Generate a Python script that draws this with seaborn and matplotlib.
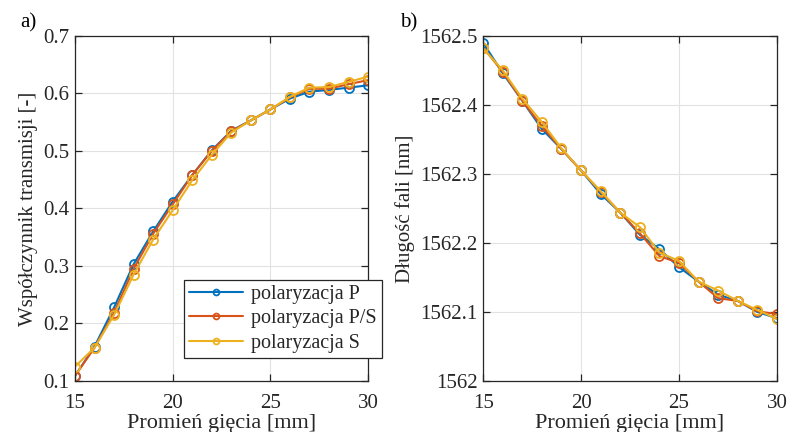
import numpy as np
import pandas as pd
import matplotlib
matplotlib.use("Agg")
import matplotlib.pyplot as plt
import seaborn as sns

# ── Data ──────────────────────────────────────────────────────────────────────
radius = [15, 16, 17, 18, 19, 20, 21, 22, 23, 24, 25, 26, 27, 28, 29, 30]

trans_p  = [0.109, 0.160, 0.228, 0.303, 0.360, 0.412, 0.458, 0.501, 0.535, 0.553,
            0.572, 0.591, 0.603, 0.606, 0.610, 0.614]
trans_ps = [0.109, 0.158, 0.219, 0.295, 0.356, 0.407, 0.458, 0.500, 0.534, 0.553,
            0.572, 0.593, 0.608, 0.608, 0.616, 0.623]
trans_s  = [0.125, 0.158, 0.215, 0.285, 0.346, 0.397, 0.449, 0.493, 0.532, 0.553,
            0.572, 0.594, 0.610, 0.611, 0.620, 0.629]

wl_p  = [1562.490, 1562.446, 1562.406, 1562.365, 1562.336, 1562.305, 1562.271, 1562.244,
         1562.212, 1562.191, 1562.165, 1562.144, 1562.125, 1562.116, 1562.100, 1562.091]
wl_ps = [1562.483, 1562.448, 1562.406, 1562.369, 1562.336, 1562.305, 1562.274, 1562.244,
         1562.214, 1562.181, 1562.171, 1562.144, 1562.120, 1562.116, 1562.101, 1562.097]
wl_s  = [1562.482, 1562.450, 1562.409, 1562.375, 1562.337, 1562.305, 1562.275, 1562.244,
         1562.223, 1562.186, 1562.174, 1562.144, 1562.131, 1562.116, 1562.103, 1562.090]

series_names  = ["polaryzacja P", "polaryzacja P/S", "polaryzacja S"]
series_colors = ["#0072BD", "#D95319", "#EDB120"]

x_ticks   = [15, 20, 25, 30]
y1_ticks  = [0.1, 0.2, 0.3, 0.4, 0.5, 0.6, 0.7]
y2_ticks  = [1562.0, 1562.1, 1562.2, 1562.3, 1562.4, 1562.5]
y2_labels = ["1562", "1562.1", "1562.2", "1562.3", "1562.4", "1562.5"]

# ── Style ─────────────────────────────────────────────────────────────────────
sns.set_style("ticks")
plt.rcParams["font.family"] = ["Liberation Serif", "DejaVu Serif"]
TXT = "#262626"
FS = 15


def style_axes(ax):
    ax.grid(True, color="#e2e2e2", linewidth=0.8)
    ax.set_axisbelow(True)
    for sp in ax.spines.values():
        sp.set_visible(True)
        sp.set_color(TXT)
        sp.set_linewidth(0.9)
    ax.tick_params(direction="in", top=True, right=True, length=5, width=0.9,
                   labelsize=FS, colors=TXT)
    ax.tick_params(axis="x", pad=9)
    ax.tick_params(axis="y", pad=4)
    ax.set_xlim(15, 30)
    ax.set_xticks(x_ticks)
    ax.set_xlabel("Promień gięcia [mm]", fontsize=16, color=TXT, labelpad=1)


def draw(ax, ys):
    for y, name, col in zip(ys, series_names, series_colors):
        df = pd.DataFrame({"x": radius, "y": y})
        sns.lineplot(data=df, x="x", y="y", ax=ax, color=col, linewidth=1.5,
                     marker="o", markersize=6.5, markerfacecolor="none",
                     markeredgecolor=col, markeredgewidth=1.3, label=name,
                     legend=False)


fig = plt.figure(figsize=(7.92, 4.32), dpi=100)
ax1 = fig.add_axes([0.0947, 0.118, 0.370, 0.799])
ax2 = fig.add_axes([0.610, 0.118, 0.371, 0.799])

# ── a) transmission ───────────────────────────────────────────────────────────
draw(ax1, [trans_p, trans_ps, trans_s])
style_axes(ax1)
ax1.set_ylim(0.1, 0.7)
ax1.set_yticks(y1_ticks)
ax1.set_yticklabels([f"{v:.1f}" for v in y1_ticks])
ax1.set_ylabel("Współczynnik transmisji [-]", fontsize=FS, color=TXT, labelpad=4)
leg = ax1.legend(loc="lower right", bbox_to_anchor=(1.048, 0.067), fontsize=14.5,
                 frameon=True, fancybox=False, edgecolor=TXT, framealpha=1,
                 handlelength=2.7, borderpad=0.26, labelspacing=0.26,
                 handletextpad=0.4, borderaxespad=0, markerscale=0.65)
leg.get_frame().set_linewidth(0.9)

# ── b) wavelength ─────────────────────────────────────────────────────────────
draw(ax2, [wl_p, wl_ps, wl_s])
style_axes(ax2)
ax2.set_ylim(1562.0, 1562.5)
ax2.set_yticks(y2_ticks)
ax2.set_yticklabels(y2_labels)
ax2.set_ylabel("Długość fali [nm]", fontsize=FS, color=TXT, labelpad=4)

fig.text(0.026, 0.946, "a)", fontsize=FS, color="black", va="center")
fig.text(0.505, 0.946, "b)", fontsize=FS, color="black", va="center")

fig.savefig("out.png", dpi=100)
